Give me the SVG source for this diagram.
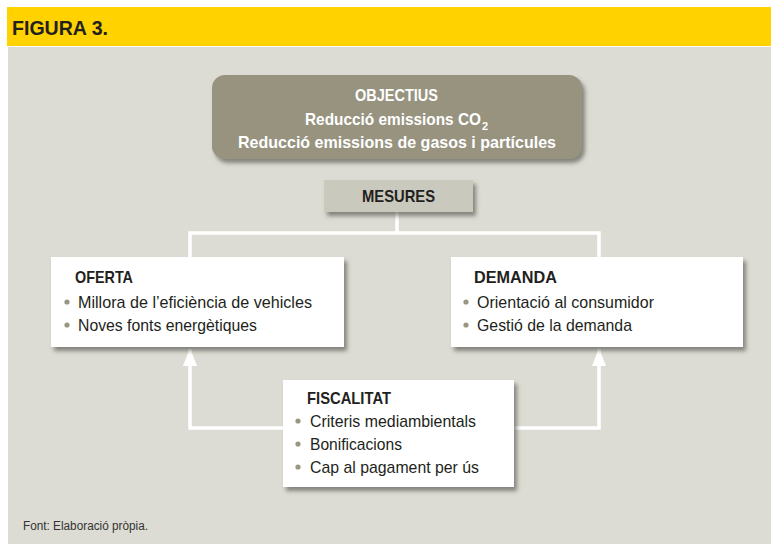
<svg xmlns="http://www.w3.org/2000/svg" width="771" height="544" viewBox="0 0 771 544">
<defs>
<filter id="sh" x="-10%" y="-20%" width="130%" height="150%">
<feDropShadow dx="3" dy="4" stdDeviation="2.2" flood-color="#4a4a40" flood-opacity="0.6"/>
</filter>
<marker id="ah" viewBox="0 0 18 14" refX="17" refY="7" markerWidth="18" markerHeight="14" markerUnits="userSpaceOnUse" orient="auto">
<path d="M18,7 L0,0 L0,14 Z" fill="#ffffff"/>
</marker>
</defs>
<style>
text{font-family:"Liberation Sans",Arial,sans-serif;}
.t{font-size:17px;font-weight:bold;fill:#231f20;}
.w{font-size:17px;font-weight:bold;fill:#ffffff;}
.b{font-size:17px;fill:#231f20;}
.sub{font-size:11px;}
.bul{fill:#9a9683;}
.box{fill:#ffffff;filter:url(#sh);}
.con{fill:none;stroke:#ffffff;stroke-width:3.5;}
</style>
<rect x="0" y="0" width="771" height="544" fill="#ffffff"/>
<rect x="7" y="7" width="764" height="39" fill="#ffd200"/>
<text x="12" y="35" font-size="21" font-weight="bold" fill="#231f20" textLength="96" lengthAdjust="spacingAndGlyphs">FIGURA 3.</text>
<rect x="8" y="47" width="763" height="497" fill="#dddcd4"/>

<g id="connectors">
<polyline class="con" points="397,212 397,233"/>
<polyline class="con" points="190,257 190,233 599,233 599,257"/>
<polyline class="con" points="283,428 190,428 190,349" marker-end="url(#ah)"/>
<polyline class="con" points="514,428 599,428 599,349" marker-end="url(#ah)"/>
</g>

<g id="objectius">
<rect x="212" y="75" width="370" height="84" rx="13" fill="#97937f" filter="url(#sh)"/>
<text class="w" x="355" y="101" textLength="83" lengthAdjust="spacingAndGlyphs">OBJECTIUS</text>
<text class="w" x="305" y="125"><tspan textLength="176" lengthAdjust="spacingAndGlyphs">Reducció emissions CO</tspan><tspan class="sub" dx="1" dy="5">2</tspan></text>
<text class="w" x="238" y="148" textLength="318" lengthAdjust="spacingAndGlyphs">Reducció emissions de gasos i partícules</text>
</g>

<g id="mesures">
<rect x="324" y="180" width="149" height="32" fill="#c9c9bd" filter="url(#sh)"/>
<text class="t" x="362" y="202" textLength="73" lengthAdjust="spacingAndGlyphs">MESURES</text>
</g>

<g id="oferta">
<rect class="box" x="51" y="257" width="293" height="90"/>
<text class="t" x="75" y="283" textLength="58" lengthAdjust="spacingAndGlyphs">OFERTA</text>
<circle class="bul" cx="67" cy="302" r="2.6"/>
<text class="b" x="78" y="308" textLength="234" lengthAdjust="spacingAndGlyphs">Millora de l’eficiència de vehicles</text>
<circle class="bul" cx="67" cy="325" r="2.6"/>
<text class="b" x="78" y="331" textLength="179" lengthAdjust="spacingAndGlyphs">Noves fonts energètiques</text>
</g>

<g id="demanda">
<rect class="box" x="451" y="257" width="292" height="90"/>
<text class="t" x="474" y="283" textLength="83" lengthAdjust="spacingAndGlyphs">DEMANDA</text>
<circle class="bul" cx="466" cy="302" r="2.6"/>
<text class="b" x="477" y="308" textLength="177" lengthAdjust="spacingAndGlyphs">Orientació al consumidor</text>
<circle class="bul" cx="466" cy="325" r="2.6"/>
<text class="b" x="477" y="331" textLength="155" lengthAdjust="spacingAndGlyphs">Gestió de la demanda</text>
</g>

<g id="fiscalitat">
<rect class="box" x="283" y="380" width="231" height="107"/>
<text class="t" x="307" y="404" textLength="84" lengthAdjust="spacingAndGlyphs">FISCALITAT</text>
<circle class="bul" cx="298" cy="421" r="2.6"/>
<text class="b" x="310" y="427" textLength="166" lengthAdjust="spacingAndGlyphs">Criteris mediambientals</text>
<circle class="bul" cx="298" cy="444" r="2.6"/>
<text class="b" x="310" y="450" textLength="92" lengthAdjust="spacingAndGlyphs">Bonificacions</text>
<circle class="bul" cx="298" cy="467" r="2.6"/>
<text class="b" x="310" y="473" textLength="169" lengthAdjust="spacingAndGlyphs">Cap al pagament per ús</text>
</g>

<text x="23" y="530" font-size="12" fill="#333333" textLength="125" lengthAdjust="spacingAndGlyphs">Font: Elaboració pròpia.</text>
</svg>
